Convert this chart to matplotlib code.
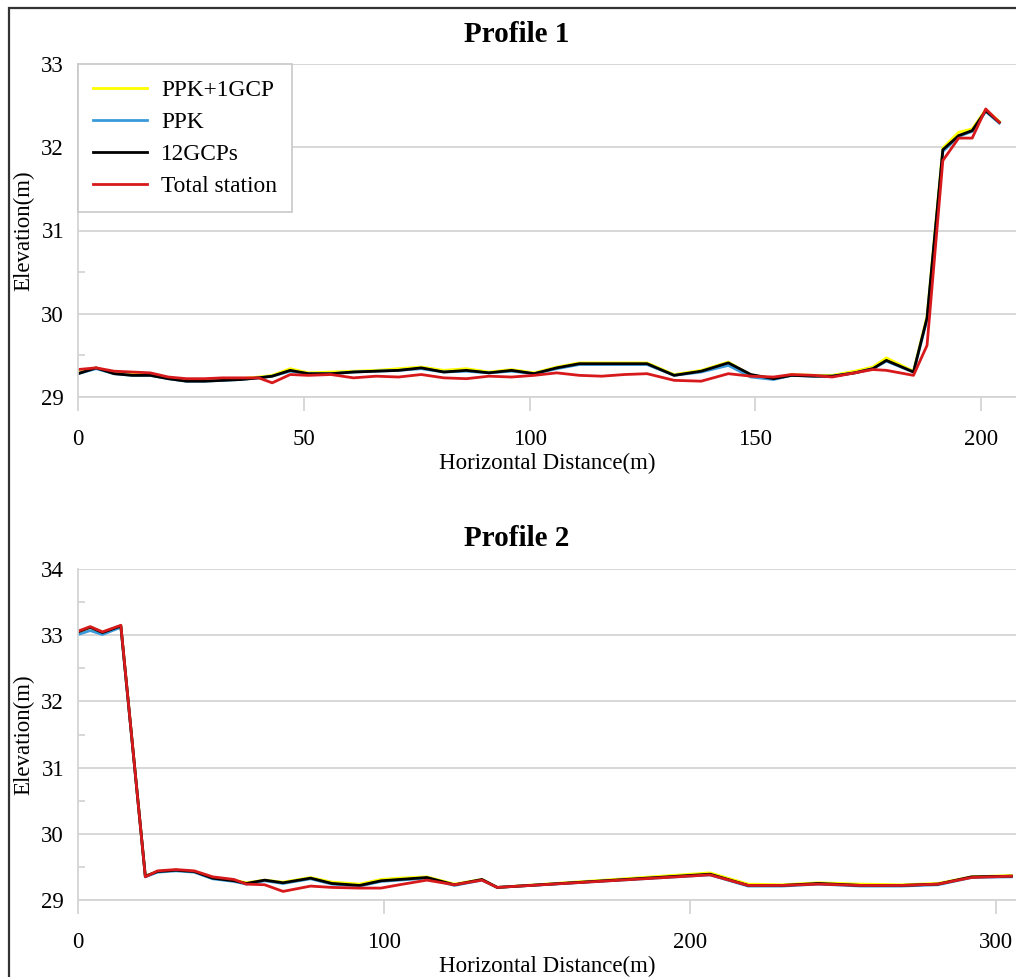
import matplotlib
matplotlib.use("Agg")
import matplotlib.pyplot as plt
from matplotlib.patches import Rectangle

plt.rcParams['font.family'] = ['Liberation Serif', 'DejaVu Serif']

# ---- Profile 1 data ----
p1_x = [0, 4, 8, 12, 16, 20, 24, 28, 32, 36, 40, 43, 47, 51, 56, 61, 66, 71,
        76, 81, 86, 91, 96, 101, 106, 111, 116, 121, 126, 132, 138, 144, 149,
        154, 158, 163, 167, 172, 176, 179, 185, 188, 191.5, 195, 198, 201, 204]
p1_12gcp = [29.28, 29.35, 29.28, 29.26, 29.26, 29.22, 29.19, 29.19, 29.20, 29.21,
            29.23, 29.25, 29.32, 29.28, 29.28, 29.30, 29.31, 29.32, 29.35, 29.30,
            29.32, 29.29, 29.32, 29.28, 29.35, 29.40, 29.40, 29.40, 29.40, 29.26,
            29.31, 29.41, 29.27, 29.22, 29.26, 29.25, 29.25, 29.29, 29.34, 29.44,
            29.30, 29.95, 31.97, 32.14, 32.20, 32.44, 32.30]
p1_ppk1gcp = [29.29, 29.35, 29.29, 29.27, 29.27, 29.23, 29.20, 29.20, 29.21, 29.22,
              29.24, 29.26, 29.34, 29.29, 29.30, 29.31, 29.32, 29.34, 29.36, 29.32,
              29.34, 29.30, 29.33, 29.29, 29.36, 29.41, 29.41, 29.41, 29.41, 29.27,
              29.32, 29.42, 29.26, 29.22, 29.27, 29.26, 29.26, 29.31, 29.36, 29.47,
              29.31, 29.97, 31.99, 32.18, 32.22, 32.45, 32.31]
p1_ppk = [29.28, 29.34, 29.28, 29.26, 29.26, 29.22, 29.19, 29.19, 29.20, 29.21,
          29.23, 29.25, 29.31, 29.28, 29.28, 29.30, 29.31, 29.32, 29.34, 29.30,
          29.31, 29.29, 29.31, 29.28, 29.34, 29.39, 29.39, 29.39, 29.39, 29.26,
          29.30, 29.38, 29.24, 29.21, 29.26, 29.25, 29.25, 29.29, 29.34, 29.43,
          29.30, 29.93, 31.95, 32.13, 32.19, 32.43, 32.29]
p1_total = [29.33, 29.35, 29.31, 29.30, 29.29, 29.24, 29.22, 29.22, 29.23, 29.23,
            29.23, 29.17, 29.27, 29.26, 29.27, 29.23, 29.25, 29.24, 29.27, 29.23,
            29.22, 29.25, 29.24, 29.26, 29.29, 29.26, 29.25, 29.27, 29.28, 29.20,
            29.19, 29.28, 29.25, 29.24, 29.27, 29.26, 29.24, 29.29, 29.33, 29.32,
            29.26, 29.62, 31.84, 32.11, 32.11, 32.46, 32.30]

# ---- Profile 2 data ----
p2_x = [0, 4, 8, 14, 22, 26, 32, 38, 44, 51, 55, 61, 67, 76, 83, 92, 99, 105,
        114, 123, 132, 137, 206.5, 219, 230, 242, 256, 269, 281, 292, 305]
p2_12gcp = [33.05, 33.12, 33.04, 33.14, 29.36, 29.43, 29.45, 29.43, 29.33, 29.29,
            29.25, 29.30, 29.26, 29.33, 29.25, 29.22, 29.29, 29.31, 29.34, 29.23,
            29.31, 29.19, 29.39, 29.22, 29.22, 29.25, 29.22, 29.22, 29.24, 29.35, 29.36]
p2_ppk1gcp = [33.05, 33.12, 33.04, 33.14, 29.36, 29.43, 29.45, 29.43, 29.34, 29.30,
              29.26, 29.30, 29.27, 29.34, 29.27, 29.24, 29.31, 29.33, 29.35, 29.24,
              29.31, 29.19, 29.41, 29.24, 29.23, 29.26, 29.24, 29.23, 29.25, 29.35, 29.37]
p2_ppk = [33.01, 33.07, 33.01, 33.12, 29.35, 29.42, 29.44, 29.42, 29.32, 29.28,
          29.24, 29.29, 29.25, 29.32, 29.24, 29.21, 29.28, 29.30, 29.33, 29.22,
          29.30, 29.19, 29.38, 29.21, 29.21, 29.24, 29.21, 29.21, 29.23, 29.34, 29.35]
p2_total = [33.06, 33.13, 33.05, 33.15, 29.35, 29.44, 29.46, 29.44, 29.35, 29.31,
            29.24, 29.23, 29.13, 29.21, 29.19, 29.18, 29.18, 29.23, 29.30, 29.23,
            29.30, 29.19, 29.38, 29.22, 29.22, 29.24, 29.22, 29.22, 29.24, 29.34, 29.36]

labels = ["PPK+1GCP", "PPK", "12GCPs", "Total station"]
colors = ["#ffff00", "#3a9ad9", "#000000", "#d7191c"]

W, H = 1016, 977
fig = plt.figure(figsize=(W / 100, H / 100), dpi=100)

# outer frame (cropped on the right and bottom)
fig.patches.append(Rectangle((9 / W, -0.1), 1.2, 1 - 8 / H + 0.1,
                             transform=fig.transFigure, fill=False,
                             edgecolor="#333333", linewidth=1.6))

GRID = "#d4d4d4"
FS = 16.5


def style_axes(ax, ylim, yticks, xlim, xticks):
    ax.set_xlim(*xlim)
    ax.set_ylim(*ylim)
    ax.set_yticks(yticks)
    ax.set_yticks([y + 0.5 for y in yticks[:-1]], minor=True)
    ax.set_xticks(xticks)
    ax.grid(axis="y", color=GRID, linewidth=1.3)
    ax.set_axisbelow(True)
    for s in ["top", "right"]:
        ax.spines[s].set_visible(False)
    for s in ["left", "bottom"]:
        ax.spines[s].set_color(GRID)
        ax.spines[s].set_linewidth(1.3)
    ax.tick_params(axis="y", which="major", length=0, pad=10, labelsize=FS)
    ax.tick_params(axis="y", which="minor", direction="in", length=5,
                   color=GRID, width=1.3)
    ax.tick_params(axis="x", which="major", direction="out", length=10,
                   color=GRID, width=1.3, pad=13, labelsize=FS)
    ax.set_ylabel("Elevation(m)", fontsize=FS, labelpad=5)
    ax.set_xlabel("Horizontal Distance(m)", fontsize=FS, labelpad=2)


# ---- top panel ----
ax1 = fig.add_axes([78 / W, 1 - 397 / H, 1 - 78 / W, (397 - 64) / H])
for ys, lab, c in zip([p1_ppk1gcp, p1_ppk, p1_12gcp, p1_total], labels, colors):
    ax1.plot(p1_x, ys, color=c, linewidth=2.0, label=lab)
style_axes(ax1, (29, 33), [29, 30, 31, 32, 33], (0, 207.7), [0, 50, 100, 150, 200])
leg = ax1.legend(loc="upper left", borderaxespad=0, fontsize=16.8, frameon=True,
                 fancybox=False, edgecolor="#c8c8c8", framealpha=1,
                 handlelength=2.3, handletextpad=0.6, labelspacing=0.46,
                 borderpad=0.66)
leg.get_frame().set_linewidth(1.2)
fig.text(517 / W, 1 - 34 / H, "Profile 1", ha="center", va="center",
         fontsize=21, fontweight="bold")

# ---- bottom panel ----
ax2 = fig.add_axes([78 / W, 1 - 900 / H, 1 - 78 / W, (900 - 569) / H])
for ys, lab, c in zip([p2_ppk1gcp, p2_ppk, p2_12gcp, p2_total], labels, colors):
    ax2.plot(p2_x, ys, color=c, linewidth=2.0, label=lab)
style_axes(ax2, (29, 34), [29, 30, 31, 32, 33, 34], (0, 306.5), [0, 100, 200, 300])
fig.text(517 / W, 1 - 539 / H, "Profile 2", ha="center", va="center",
         fontsize=21, fontweight="bold")

fig.savefig("out.png", dpi=100)
